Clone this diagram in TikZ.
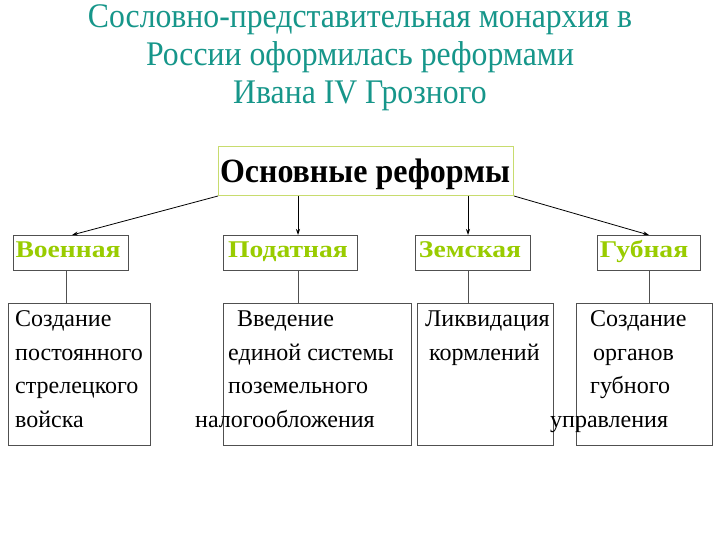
\documentclass[tikz,border=0pt]{standalone}
\usepackage{fontspec}
\setmainfont{Liberation Serif}
\usetikzlibrary{arrows.meta}
\definecolor{titlecol}{RGB}{22,150,138}
\definecolor{catcol}{RGB}{153,204,0}
\definecolor{mainborder}{RGB}{200,220,110}
\definecolor{boxborder}{RGB}{80,80,80}
\newcommand{\hsq}[2]{\scalebox{#1}[1]{#2}}
\tikzset{
  titletext/.style={anchor=base, inner sep=0pt, text=titlecol, font=\fontsize{34.5}{38}\selectfont},
  mainbox/.style={draw=mainborder, line width=1pt, anchor=north west, inner sep=0pt},
  catbox/.style={draw=boxborder, line width=1.2pt, anchor=north west, inner sep=0pt},
  lowbox/.style={draw=boxborder, line width=1.2pt, anchor=north west, inner sep=0pt},
  cattext/.style={anchor=base, inner sep=0pt, text=catcol, font=\bfseries\fontsize{24}{26}\selectfont},
  bodytext/.style={anchor=base west, inner sep=0pt, font=\fontsize{24}{26}\selectfont},
  arr/.style={draw=black, line width=0.8pt, -{Stealth[length=6pt,width=4pt]}},
  conn/.style={draw=boxborder, line width=1pt},
}
\begin{document}
\begin{tikzpicture}[x=1pt,y=-1pt]
\useasboundingbox (0,0) rectangle (720,540);
\fill[white] (0,0) rectangle (720,540);
% title
\node[titletext] (t1) at (360,28) {\hsq{0.92}{Сословно-представительная монархия в}};
\node[titletext] (t2) at (360,66) {\hsq{0.92}{России оформилась реформами}};
\node[titletext] (t3) at (360,104) {\hsq{0.92}{Ивана IV Грозного}};
% main box
\node[mainbox, minimum width=295pt, minimum height=49pt] (main) at (218,146) {};
\node[anchor=base, inner sep=0pt, font=\bfseries\fontsize{34}{36}\selectfont] (maint) at (365,183) {\hsq{0.94}{Основные реформы}};
% category boxes
\node[catbox, minimum width=115pt, minimum height=35pt] (voen) at (13,235) {};
\node[catbox, minimum width=134pt, minimum height=35pt] (podat) at (223,235) {};
\node[catbox, minimum width=115pt, minimum height=35pt] (zem) at (415,235) {};
\node[catbox, minimum width=103pt, minimum height=35pt] (gub) at (597,235) {};
\node[cattext] (voent) at (68,257) {\hsq{1.15}{Военная}};
\node[cattext] (podatt) at (288,257) {\hsq{1.15}{Податная}};
\node[cattext] (zemt) at (470,257) {\hsq{1.15}{Земская}};
\node[cattext] (gubt) at (644,257) {\hsq{1.15}{Губная}};
% lower boxes
\node[lowbox, minimum width=142pt, minimum height=142pt] (b1) at (8,303) {};
\node[lowbox, minimum width=188pt, minimum height=142pt] (b2) at (223,303) {};
\node[lowbox, minimum width=136pt, minimum height=142pt] (b3) at (417,303) {};
\node[lowbox, minimum width=136pt, minimum height=142pt] (b4) at (576,303) {};
% texts box 1
\node[bodytext] (b1l1) at (15,326) {Создание};
\node[bodytext] (b1l2) at (15,360) {постоянного};
\node[bodytext] (b1l3) at (15,393) {стрелецкого};
\node[bodytext] (b1l4) at (15,427) {войска};
% texts box 2
\node[bodytext] (b2l1) at (237,326) {Введение};
\node[bodytext] (b2l2) at (228,360) {единой системы};
\node[bodytext] (b2l3) at (228,393) {поземельного};
\node[bodytext] (b2l4) at (195,427) {налогообложения};
% texts box 3
\node[bodytext] (b3l1) at (425,326) {Ликвидация};
\node[bodytext] (b3l2) at (429,360) {кормлений};
% texts box 4
\node[bodytext] (b4l1) at (590,326) {Создание};
\node[bodytext] (b4l2) at (593,360) {органов};
\node[bodytext] (b4l3) at (590,393) {губного};
\node[bodytext] (b4l4) at (550,427) {управления};
% connector columns
\coordinate (c1) at (66,0);
\coordinate (a1) at (72,0);
\coordinate (c2) at (298,0);
\coordinate (c3) at (468,0);
\coordinate (c4) at (649,0);
% arrows
\draw[arr] (main.south west) -- (voen.north -| a1);
\draw[arr] (main.south -| c2) -- (podat.north -| c2);
\draw[arr] (main.south -| c3) -- (zem.north -| c3);
\draw[arr] (main.south east) -- (gub.north -| c4);
% vertical lines
\draw[conn] (voen.south -| c1) -- (b1.north -| c1);
\draw[conn] (podat.south -| c2) -- (b2.north -| c2);
\draw[conn] (zem.south -| c3) -- (b3.north -| c3);
\draw[conn] (gub.south -| c4) -- (b4.north -| c4);
\end{tikzpicture}
\end{document}
